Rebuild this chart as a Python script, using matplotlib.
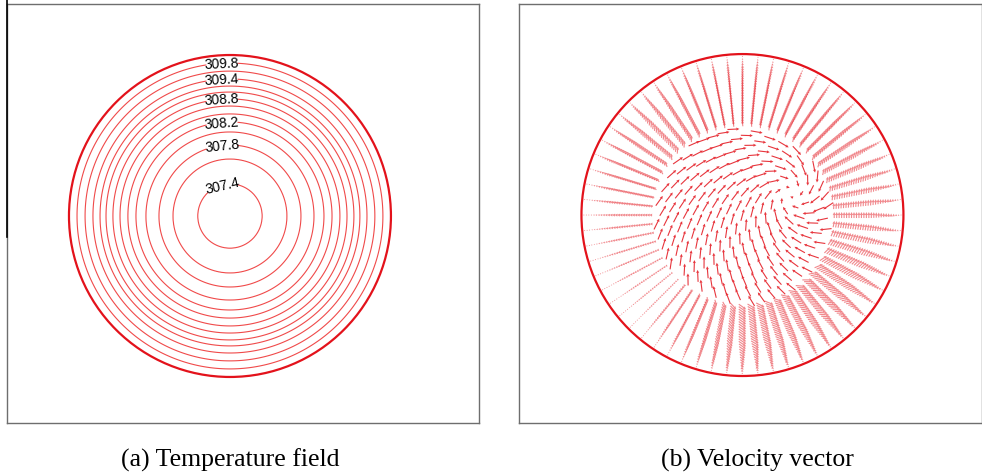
import numpy as np
import matplotlib
matplotlib.use('Agg')
import matplotlib.pyplot as plt
from matplotlib.lines import Line2D

# (a) temperature field: radius of each isotherm (disc radius = 1)
ring_radius = [0.0, 0.20, 0.354, 0.441, 0.522, 0.584, 0.634, 0.683, 0.727,
               0.770, 0.807, 0.851, 0.900, 0.950, 1.0]
ring_temp = [307.25, 307.4, 307.6, 307.8, 308.0, 308.2, 308.4, 308.6, 308.8,
             309.0, 309.2, 309.4, 309.6, 309.8, 310.0]
contour_levels = [307.4, 307.6, 307.8, 308.0, 308.2, 308.4, 308.6, 308.8,
                  309.0, 309.2, 309.4, 309.6, 309.8]
label_levels = [307.4, 307.8, 308.2, 308.8, 309.4, 309.8]

# (b) velocity vectors: near-wall flow sampled round the wall (deg)
wall_angle = [0, 45, 90, 135, 180, 225, 270, 315, 360]
wall_turn = [90, 25, 8, -50, -5, 0, 55, 45, 90]   # direction relative to outward radius
wall_speed = [6, 7, 6, 7, 3, 2, 9, 10, 6]
# swirl in the core
swirl_x = [0.30]
swirl_y = [0.13]
swirl_speed = [12.0]
swirl_inflow = [0.8]

captions = ['(a) Temperature field', '(b) Velocity vector']

red = '#e3121b'
fig = plt.figure(figsize=(9.82, 4.77), dpi=100)

# ---------- (a) temperature ----------
ax1 = fig.add_axes([7/982, 53/477, 472/982, 419/477])
x = np.linspace(-1.05, 1.05, 700)
X, Y = np.meshgrid(x, x)
rho = np.hypot(X, Y)
T = np.interp(rho, ring_radius, ring_temp)
T[rho > 1.0] = np.nan
cs = ax1.contour(X, Y, T, levels=contour_levels, colors='#f04a4a', linewidths=0.8)
label_pos = [(-0.05, np.interp(lv, ring_temp, ring_radius)) for lv in label_levels]
lbls = ax1.clabel(cs, manual=label_pos, fmt='%.1f',
                  fontsize=10, colors='black', inline=True, inline_spacing=2)
for t in lbls:
    t.set_fontfamily('Liberation Sans')
ax1.add_patch(plt.Circle((0, 0), 1.0, fill=False, ec=red, lw=1.6))
ax1.set_xlim(-1.385, 1.547)
ax1.set_ylim(-1.286, 1.317)

# ---------- (b) velocity ----------
ax2 = fig.add_axes([519/982, 53/477, 463/982, 419/477])

# outer, wall-refined part of the mesh
th = np.deg2rad(np.arange(64) * 360.0 / 64)
r_out = np.linspace(0.57, 0.985, 28)
R, TH = np.meshgrid(r_out, th)
deg = np.rad2deg(TH) % 360
turn = np.deg2rad(np.interp(deg, wall_angle, wall_turn))
spd = np.interp(deg, wall_angle, wall_speed) * np.clip((1 - R) / 0.2, 0, 1) ** 0.7
xo = R * np.cos(TH)
yo = R * np.sin(TH)
uo = spd * np.cos(TH + turn)
vo = spd * np.sin(TH + turn)

# inner, coarser part of the mesh (skewed grid)
g = np.arange(-0.585, 0.59, 0.065)
GX, GY = np.meshgrid(g, g)
c, s_ = np.cos(0.35), np.sin(0.35)
xi = (c * GX - s_ * GY).ravel()
yi = (s_ * GX + c * GY).ravel()
keep = np.hypot(xi, yi) < 0.54
xi, yi = xi[keep], yi[keep]
dx = xi - swirl_x[0]
dy = yi - swirl_y[0]
dist = np.hypot(dx, dy) + 1e-9
s = swirl_speed[0] * np.clip(dist / 0.15, 0.25, 1.0)
k_in = swirl_inflow[0]
ui = s * (dy / dist - k_in * dx / dist) / np.hypot(1, k_in)
vi = s * (-dx / dist - k_in * dy / dist) / np.hypot(1, k_in)

qkw = dict(angles='xy', scale_units='xy', scale=161, width=0.0024,
           headwidth=2.8, headlength=2.8, headaxislength=2.5, pivot='middle')
ax2.quiver(xo.ravel(), yo.ravel(), uo.ravel(), vo.ravel(), color=red, alpha=0.5, **qkw)
ax2.quiver(xi, yi, ui, vi, color=red, alpha=0.85, **qkw)
ax2.add_patch(plt.Circle((0, 0), 1.0, fill=False, ec=red, lw=1.6))
ax2.set_xlim(-1.388, 1.488)
ax2.set_ylim(-1.292, 1.311)

for ax in (ax1, ax2):
    ax.set_xticks([])
    ax.set_yticks([])
    for sp in ax.spines.values():
        sp.set_color('#6e6e6e')
        sp.set_linewidth(1.0)

# dark edge left of panel (a)
fig.add_artist(Line2D([7/982, 7/982], [1.0, 1 - 238/477], color='black', lw=1.2))

fig.text(230/982, 17/477, captions[0], ha='center', va='center',
         family='Liberation Serif', fontsize=18.5)
fig.text(757/982, 17/477, captions[1], ha='center', va='center',
         family='Liberation Serif', fontsize=18.5)

fig.savefig('out.png', dpi=100)
